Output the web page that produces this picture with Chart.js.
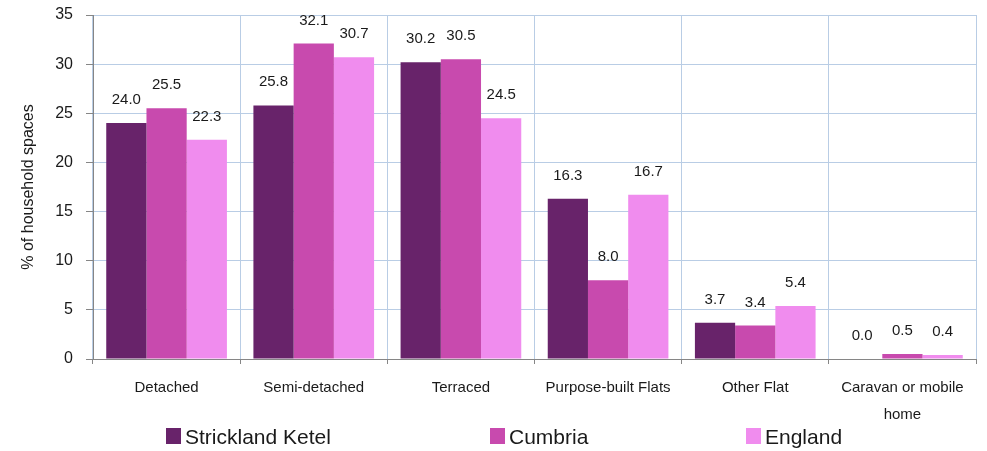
<!DOCTYPE html>
<html>
<head>
<meta charset="utf-8">
<script src="https://cdn.jsdelivr.net/npm/chart.js@4"></script>
<style>
  html, body { margin: 0; padding: 0; background: #fff; }
  #wrap { position: relative; width: 987px; height: 451px; }
</style>
</head>
<body>
<div id="wrap"><canvas id="chart"></canvas></div>
<script>
const categories = ["Detached", "Semi-detached", "Terraced", "Purpose-built Flats", "Other Flat", ["Caravan or mobile", "home"]];
const seriesNames = ["Strickland Ketel", "Cumbria", "England"];
const strickland = [24.0, 25.8, 30.2, 16.3, 3.7, 0.0];
const cumbria = [25.5, 32.1, 30.5, 8.0, 3.4, 0.5];
const england = [22.3, 30.7, 24.5, 16.7, 5.4, 0.4];
const yTicks = [0, 5, 10, 15, 20, 25, 30, 35];

const colors = ["#68236a", "#c84aae", "#f08cee"];
const FONT = "'Liberation Sans', Arial, sans-serif";
const GRID = "#b9cde5";
const AXIS = "#868686";
const TEXT = "#1a1a1a";

// value labels above each bar
const barLabels = {
  id: "barLabels",
  afterDatasetsDraw(chart) {
    const ctx = chart.ctx;
    ctx.save();
    ctx.font = "15px " + FONT;
    ctx.fillStyle = TEXT;
    ctx.textAlign = "center";
    ctx.textBaseline = "alphabetic";
    chart.data.datasets.forEach((ds, i) => {
      chart.getDatasetMeta(i).data.forEach((bar, j) => {
        ctx.fillText(ds.data[j].toFixed(1), bar.x, bar.y - 19);
      });
    });
    ctx.restore();
  }
};

// legend drawn under the axis, spaced like the original
const legendXs = [166, 490, 746];
const bottomLegend = {
  id: "bottomLegend",
  afterDraw(chart) {
    const ctx = chart.ctx;
    ctx.save();
    ctx.font = "21px " + FONT;
    ctx.textBaseline = "alphabetic";
    chart.data.datasets.forEach((ds, i) => {
      const x = legendXs[i];
      ctx.fillStyle = ds.backgroundColor;
      ctx.fillRect(x, 428, 15, 16);
      ctx.fillStyle = TEXT;
      ctx.fillText(ds.label, x + 19, 444);
    });
    ctx.restore();
  }
};

const series = [strickland, cumbria, england];

new Chart(document.getElementById("chart"), {
  type: "bar",
  data: {
    labels: categories,
    datasets: series.map((d, i) => ({
      label: seriesNames[i],
      data: d,
      backgroundColor: colors[i],
      borderWidth: 0,
      categoryPercentage: 0.82,
      barPercentage: 1.0
    }))
  },
  options: {
    responsive: true,
    maintainAspectRatio: false,
    animation: false,
    layout: { padding: { left: 0, right: 11, top: 15, bottom: 0 } },
    plugins: {
      legend: { display: false },
      tooltip: { enabled: false }
    },
    scales: {
      x: {
        grid: { color: GRID, tickColor: AXIS, tickLength: 5, offset: true },
        border: { color: AXIS },
        ticks: {
          color: TEXT,
          padding: 10,
          maxRotation: 0,
          autoSkip: false,
          font: { family: FONT, size: 15, lineHeight: 1.8 }
        },
        afterFit(scale) { scale.height = 92; }
      },
      y: {
        min: 0,
        max: 35,
        afterBuildTicks(scale) { scale.ticks = yTicks.map(v => ({ value: v })); },
        grid: { color: GRID, tickColor: AXIS, tickLength: 7 },
        border: { color: AXIS },
        ticks: {
          color: TEXT,
          padding: 13,
          font: { family: FONT, size: 16 }
        },
        title: {
          display: true,
          text: "% of household spaces",
          color: TEXT,
          padding: { top: 19, bottom: 0 },
          font: { family: FONT, size: 16 }
        },
        afterFit(scale) {
          scale.width = 93;
          scale.paddingTop = 0;
          scale.paddingBottom = 0;
        }
      }
    }
  },
  plugins: [barLabels, bottomLegend]
});
</script>
</body>
</html>
